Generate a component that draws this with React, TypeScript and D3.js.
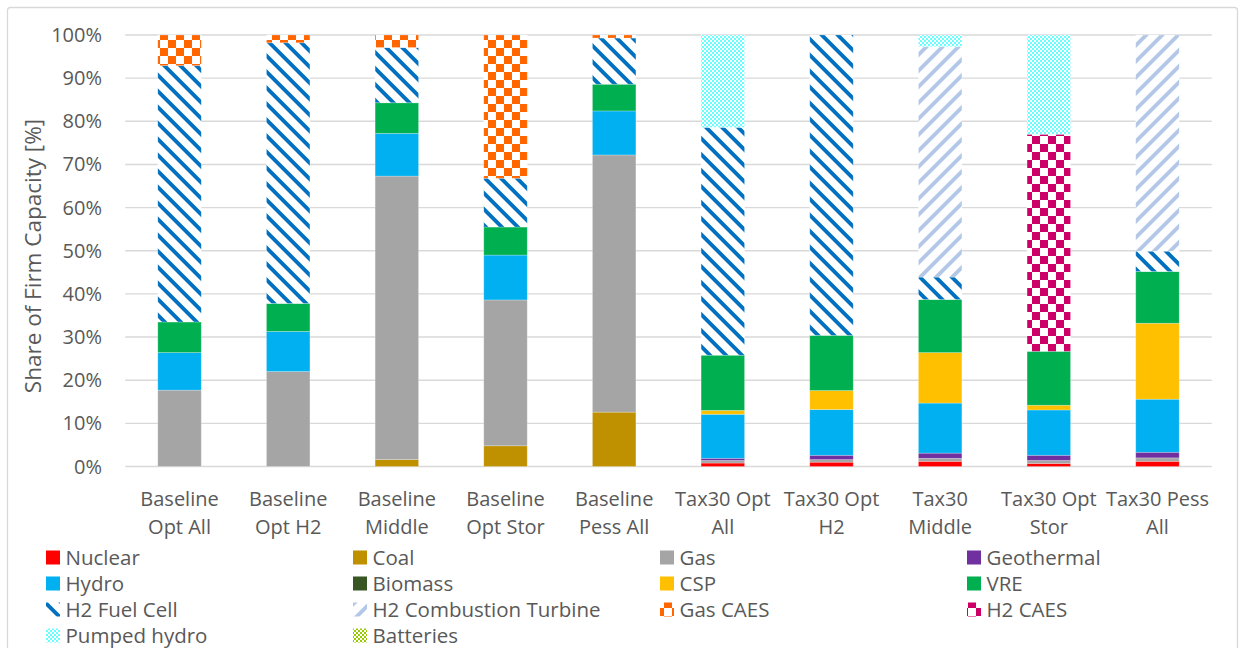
import * as d3 from "d3";

const categories = [
  "Baseline\nOpt All",
  "Baseline\nOpt H2",
  "Baseline\nMiddle",
  "Baseline\nOpt Stor",
  "Baseline\nPess All",
  "Tax30 Opt\nAll",
  "Tax30 Opt\nH2",
  "Tax30\nMiddle",
  "Tax30 Opt\nStor",
  "Tax30 Pess\nAll",
];

// shares in %, bottom of the stack first
const nuclear = [0, 0, 0, 0, 0, 0.8, 1.0, 1.2, 0.7, 1.2];
const coal = [0, 0, 1.6, 4.8, 12.6, 0, 0, 0, 0, 0];
const gas = [17.7, 22.0, 65.7, 33.8, 59.6, 0.6, 0.6, 0.7, 0.7, 0.8];
const geothermal = [0, 0, 0, 0, 0, 0.5, 1.0, 1.2, 1.2, 1.3];
const hydro = [8.7, 9.3, 9.9, 10.4, 10.2, 10.2, 10.6, 11.6, 10.5, 12.3];
const biomass = [0, 0, 0, 0, 0, 0, 0, 0, 0, 0];
const csp = [0, 0, 0, 0, 0, 0.9, 4.4, 11.7, 1.1, 17.6];
const vre = [7.1, 6.5, 7.1, 6.5, 6.2, 12.8, 12.8, 12.3, 12.5, 12.0];
const h2FuelCell = [59.4, 60.4, 12.8, 11.3, 10.7, 52.8, 69.6, 5.2, 0, 4.7];
const h2Turbine = [0, 0, 0, 0, 0, 0, 0, 53.4, 0, 50.1];
const gasCaes = [7.1, 1.8, 2.9, 33.2, 0.7, 0, 0, 0, 0, 0];
const h2Caes = [0, 0, 0, 0, 0, 0, 0, 0, 50.3, 0];
const pumpedHydro = [0, 0, 0, 0, 0, 21.4, 0, 2.7, 23.0, 0];
const batteries = [0, 0, 0, 0, 0, 0, 0, 0, 0, 0];

const yTicks = [0, 10, 20, 30, 40, 50, 60, 70, 80, 90, 100];

const series = [
  { name: "Nuclear", values: nuclear, fill: "#ff0000" },
  { name: "Coal", values: coal, fill: "#bf9000" },
  { name: "Gas", values: gas, fill: "#a5a5a5" },
  { name: "Geothermal", values: geothermal, fill: "#7030a0" },
  { name: "Hydro", values: hydro, fill: "#00b0f0" },
  { name: "Biomass", values: biomass, fill: "#375623" },
  { name: "CSP", values: csp, fill: "#ffc000" },
  { name: "VRE", values: vre, fill: "#00b050" },
  { name: "H2 Fuel Cell", values: h2FuelCell, fill: "url(#pFuelCell)" },
  { name: "H2 Combustion Turbine", values: h2Turbine, fill: "url(#pTurbine)" },
  { name: "Gas CAES", values: gasCaes, fill: "url(#pGasCaes)" },
  { name: "H2 CAES", values: h2Caes, fill: "url(#pH2Caes)" },
  { name: "Pumped hydro", values: pumpedHydro, fill: "url(#pPumped)" },
  { name: "Batteries", values: batteries, fill: "url(#pBatteries)" },
];

const W = 1241;
const H = 648;
const font = "'Open Sans', sans-serif";
const textColor = "#595959";

export default function App() {
  const x = d3
    .scaleBand<number>()
    .domain(d3.range(categories.length))
    .range([125.2, 1211.8])
    .paddingInner(0.6)
    .paddingOuter(0.3);
  const y = d3.scaleLinear().domain([0, 100]).range([466.5, 35]);

  const rows = categories.map((_, i) => {
    const r: Record<string, number> = {};
    series.forEach((s) => (r[s.name] = s.values[i]));
    return r;
  });
  const stacked = d3.stack<Record<string, number>>().keys(series.map((s) => s.name))(rows);

  const legendX = [46, 353, 660, 967];
  const legendY = [557.5, 583.5, 609.5, 635.5];

  return (
    <svg
      width={W}
      height={H}
      style={{ position: "absolute", left: 0, top: 0, background: "#fff" }}
      fontFamily={font}
    >
      <defs>
        <pattern id="pFuelCell" width={16} height={16} patternUnits="userSpaceOnUse">
          <rect width={16} height={16} fill="#fff" />
          <path d="M0,0 L5.5,0 L16,10.5 L16,16 Z M0,10.5 L5.5,16 L0,16 Z" fill="#0070c0" />
        </pattern>
        <pattern id="pTurbine" width={16} height={16} patternUnits="userSpaceOnUse">
          <rect width={16} height={16} fill="#fff" />
          <path d="M16,0 L10.5,0 L0,10.5 L0,16 Z M16,10.5 L10.5,16 L16,16 Z" fill="#b4c7e7" />
        </pattern>
        <pattern id="pGasCaes" width={16} height={16} patternUnits="userSpaceOnUse">
          <rect width={16} height={16} fill="#fff" />
          <rect width={8} height={8} fill="#ff6600" />
          <rect x={8} y={8} width={8} height={8} fill="#ff6600" />
        </pattern>
        <pattern id="pH2Caes" width={16} height={16} patternUnits="userSpaceOnUse">
          <rect width={16} height={16} fill="#fff" />
          <rect width={8} height={8} fill="#cc0066" />
          <rect x={8} y={8} width={8} height={8} fill="#cc0066" />
        </pattern>
        <pattern id="pPumped" width={4} height={4} patternUnits="userSpaceOnUse">
          <rect width={4} height={4} fill="#fff" />
          <rect width={2} height={2} fill="#66ffff" />
          <rect x={2} y={2} width={2} height={2} fill="#66ffff" />
        </pattern>
        <pattern id="pBatteries" width={4} height={4} patternUnits="userSpaceOnUse">
          <rect width={4} height={4} fill="#fff" />
          <rect width={2} height={2} fill="#99cc00" />
          <rect x={2} y={2} width={2} height={2} fill="#99cc00" />
        </pattern>
      </defs>

      {/* chart frame */}
      <rect x={7.5} y={7.5} width={1230} height={700} rx={3} fill="#fff" stroke="#d9d9d9" strokeWidth={1.3} />

      {/* gridlines */}
      {yTicks.map((t) => (
        <line
          key={t}
          x1={125.2}
          x2={1211.8}
          y1={y(t)}
          y2={y(t)}
          stroke="#d9d9d9"
          strokeWidth={1.4}
        />
      ))}

      {/* y tick labels */}
      {yTicks.map((t) => (
        <text
          key={t}
          x={102}
          y={y(t) + 7}
          textAnchor="end"
          fontSize={20}
          fill={textColor}
        >
          {t}%
        </text>
      ))}

      <text
        transform="translate(41,256) rotate(-90)"
        textAnchor="middle"
        fontSize={22.5}
        fill={textColor}
      >
        Share of Firm Capacity [%]
      </text>

      {/* stacked bars */}
      {stacked.map((layer, si) => (
        <g key={layer.key} fill={series[si].fill}>
          {layer.map((d, i) =>
            d[1] - d[0] > 0 ? (
              <rect
                key={i}
                x={x(i)}
                width={x.bandwidth()}
                y={y(d[1])}
                height={y(d[0]) - y(d[1])}
                stroke="#fff"
                strokeOpacity={0.3}
                strokeWidth={0.8}
              />
            ) : null
          )}
        </g>
      ))}

      {/* category labels */}
      {categories.map((c, i) => (
        <text
          key={i}
          x={(x(i) ?? 0) + x.bandwidth() / 2}
          textAnchor="middle"
          fontSize={20}
          fill={textColor}
        >
          {c.split("\n").map((line, li) => (
            <tspan key={li} x={(x(i) ?? 0) + x.bandwidth() / 2} y={505.5 + li * 28.5}>
              {line}
            </tspan>
          ))}
        </text>
      ))}

      {/* legend */}
      {series.map((s, i) => {
        const lx = legendX[i % 4];
        const ly = legendY[Math.floor(i / 4)];
        return (
          <g key={s.name}>
            <rect x={lx} y={ly - 7} width={14} height={14} fill={s.fill} />
            <text x={lx + 19.5} y={ly + 7} fontSize={20.5} fill={textColor}>
              {s.name}
            </text>
          </g>
        );
      })}
    </svg>
  );
}
